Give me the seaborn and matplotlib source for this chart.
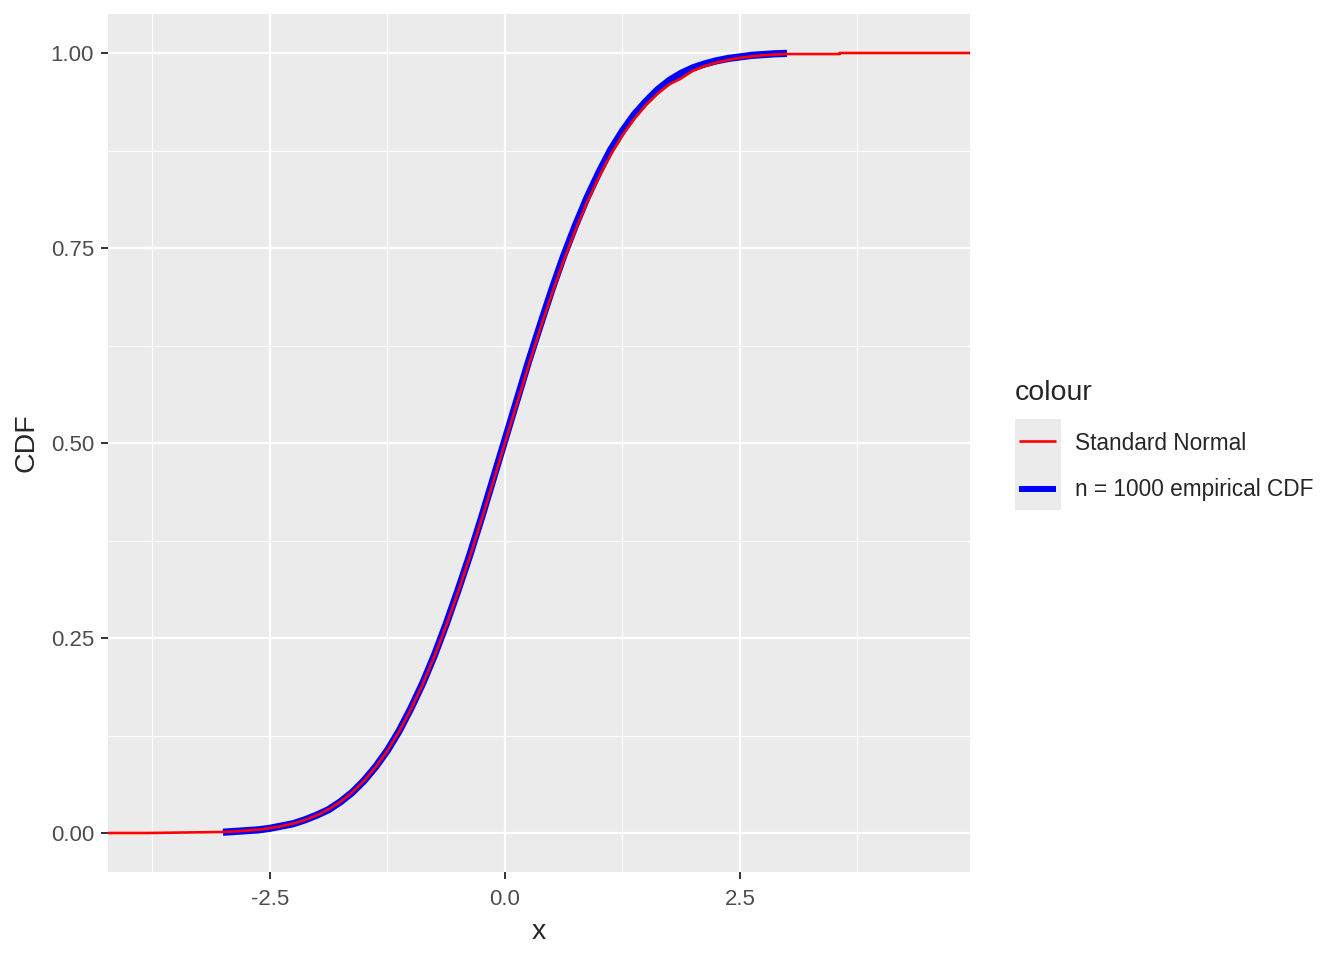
import pandas as pd
import seaborn as sns
import matplotlib.pyplot as plt
from matplotlib.ticker import FixedLocator

# values
x_norm = [-4.3, -3.8, -3.0, -2.875, -2.75, -2.625, -2.5, -2.375, -2.25, -2.125,
          -2.0, -1.875, -1.75, -1.625, -1.5, -1.375, -1.25, -1.125, -1.0, -0.875,
          -0.75, -0.625, -0.5, -0.375, -0.25, -0.125, 0.0, 0.125, 0.25, 0.375,
          0.5, 0.625, 0.75, 0.875, 1.0, 1.125, 1.25, 1.375, 1.5, 1.625, 1.75,
          1.875, 2.0, 2.125, 2.25, 2.375, 2.5, 2.625, 2.75, 2.875, 3.0, 3.56,
          3.56, 5.0]
y_norm = [0.0, 0.0, 0.0013, 0.0020, 0.0030, 0.0043, 0.0062, 0.0088, 0.0122, 0.0168,
          0.0228, 0.0304, 0.0401, 0.0521, 0.0668, 0.0846, 0.1056, 0.1303, 0.1587,
          0.1908, 0.2266, 0.2660, 0.3085, 0.3538, 0.4013, 0.4503, 0.5, 0.5497,
          0.5987, 0.6462, 0.6915, 0.7340, 0.7734, 0.8092, 0.8413, 0.8697, 0.8944,
          0.9154, 0.9332, 0.9479, 0.9599, 0.9675, 0.9773, 0.9832, 0.9878, 0.9912,
          0.9938, 0.9957, 0.9970, 0.9980, 0.9987, 0.9987, 1.0, 1.0]

x_emp = [-3.0, -2.875, -2.75, -2.625, -2.5, -2.375, -2.25, -2.125, -2.0, -1.875,
         -1.75, -1.625, -1.5, -1.375, -1.25, -1.125, -1.0, -0.875, -0.75, -0.625,
         -0.5, -0.375, -0.25, -0.125, 0.0, 0.125, 0.25, 0.375, 0.5, 0.625, 0.75,
         0.875, 1.0, 1.125, 1.25, 1.375, 1.5, 1.625, 1.75, 1.875, 2.0, 2.125,
         2.25, 2.375, 2.5, 2.625, 2.75, 2.875, 3.0]
y_emp = [0.001, 0.002, 0.003, 0.004, 0.006, 0.009, 0.012, 0.017, 0.023, 0.030,
         0.040, 0.052, 0.067, 0.085, 0.106, 0.131, 0.160, 0.192, 0.228, 0.268,
         0.311, 0.356, 0.404, 0.454, 0.504, 0.554, 0.604, 0.651, 0.697, 0.740,
         0.779, 0.815, 0.847, 0.876, 0.900, 0.921, 0.938, 0.953, 0.965, 0.974,
         0.981, 0.986, 0.990, 0.993, 0.995, 0.997, 0.998, 0.999, 0.9995]

labels = ["Standard Normal", "n = 1000 empirical CDF"]
colors = ["#FF0000", "#0000FF"]

norm_df = pd.DataFrame({"x": x_norm, "CDF": y_norm})
emp_df = pd.DataFrame({"x": x_emp, "CDF": y_emp})

sns.set_style("darkgrid", {"axes.facecolor": "#EBEBEB", "grid.color": "white"})
plt.rcParams["font.family"] = ["Liberation Sans", "DejaVu Sans"]

fig = plt.figure(figsize=(13.44, 9.6), dpi=100)
ax = fig.add_axes([108 / 1344, 1 - 872 / 960, 862 / 1344, 858 / 960])

sns.lineplot(data=emp_df, x="x", y="CDF", color=colors[1], linewidth=5.2,
             estimator=None, sort=False, ax=ax, zorder=3, solid_capstyle="butt")
sns.lineplot(data=norm_df, x="x", y="CDF", color=colors[0], linewidth=1.9,
             estimator=None, sort=False, ax=ax, zorder=4, solid_capstyle="butt")

ax.set_xlim(-4.223, 4.947)
ax.set_ylim(-0.05, 1.05)
ax.set_xticks([-2.5, 0.0, 2.5])
ax.set_xticklabels(["-2.5", "0.0", "2.5"])
ax.set_yticks([0.0, 0.25, 0.5, 0.75, 1.0])
ax.set_yticklabels(["0.00", "0.25", "0.50", "0.75", "1.00"])
ax.xaxis.set_minor_locator(FixedLocator([-3.75, -1.25, 1.25, 3.75]))
ax.yaxis.set_minor_locator(FixedLocator([0.125, 0.375, 0.625, 0.875]))
ax.grid(which="major", color="white", linewidth=1.6)
ax.grid(which="minor", color="white", linewidth=0.8)
ax.tick_params(which="major", length=5, width=1.4, color="#333333",
               labelsize=16, labelcolor="#4D4D4D", bottom=True, left=True)
ax.tick_params(axis="x", which="major", pad=7)
ax.tick_params(axis="y", which="major", pad=5)
ax.tick_params(which="minor", length=0)
for s in ax.spines.values():
    s.set_visible(False)
ax.set_xlabel("x", fontsize=20.5, labelpad=7)
ax.set_ylabel("CDF", fontsize=20.5, labelpad=8)

# legend drawn by hand, ggplot style
fig.text(1015 / 1344, 1 - 393 / 960, "colour", fontsize=20.5, va="center", ha="left")
kax = fig.add_axes([1015 / 1344, 1 - 510 / 960, 46 / 1344, 91 / 960])
kax.set_facecolor("#EBEBEB")
kax.set_xlim(0, 1)
kax.set_ylim(0, 1)
kax.grid(False)
kax.set_xticks([])
kax.set_yticks([])
for s in kax.spines.values():
    s.set_visible(False)
key_y = [0.758, 0.231]
key_w = [1.9, 4.3]
for lab, col, ky, lw, ty in zip(labels, colors, key_y, key_w, [444, 490]):
    kax.plot([0.09, 0.89], [ky, ky], color=col, linewidth=lw, solid_capstyle="butt")
    fig.text(1075 / 1344, 1 - ty / 960, lab, fontsize=16.3, va="center", ha="left")

fig.savefig("out.png", dpi=100)
